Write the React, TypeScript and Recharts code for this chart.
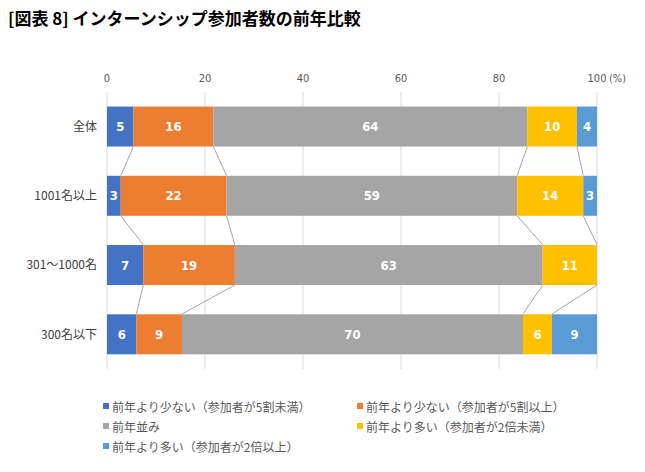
import React from 'react'
import { BarChart, Bar, XAxis, YAxis, CartesianGrid, LabelList } from 'recharts'

const categories = ['全体', '1001名以上', '301～1000名', '300名以下']
const seriesNames = [
  '前年より少ない（参加者が5割未満）',
  '前年より少ない（参加者が5割以上）',
  '前年並み',
  '前年より多い（参加者が2倍未満）',
  '前年より多い（参加者が2倍以上）',
]
const seriesColors = ['#4472C4', '#ED7D31', '#A5A5A5', '#FFC000', '#5B9BD5']

const fewerHalf = [5.4, 2.8, 7.4, 6.0]
const fewer = [16.3, 21.6, 18.7, 9.3]
const same = [64.1, 59.3, 62.8, 69.6]
const more = [10.1, 13.5, 11.1, 5.9]
const moreDouble = [4.1, 2.8, 0, 9.2]
const xTicks = [0, 20, 40, 60, 80, 100]

const seriesValues = [fewerHalf, fewer, same, more, moreDouble]
const keys = ['s0', 's1', 's2', 's3', 's4']

const data = categories.map((name, i) => {
  const row: Record<string, any> = { name }
  keys.forEach((k, j) => (row[k] = seriesValues[j][i]))
  return row
})

// running total up to and including series k
const cum = (i: number, k: number) =>
  seriesValues.slice(0, k + 1).reduce((s, arr) => s + arr[i], 0)

const GAP = 0.21
const lineColor = '#A5A5A5'
const narrow = '"DejaVu Sans Condensed", "DejaVu Sans", sans-serif'

function makeShape(k: number) {
  return (props: any) => {
    const { x, y, width, height, index, fill, background } = props
    if (!width || width <= 0) return <g />
    const unit = background ? background.width / 100 : width / seriesValues[k][index]
    const origin = background ? background.x : x - cum(index, k - 1) * unit
    const hasLine = k < 4 && index < categories.length - 1
    const band = height / (1 - 2 * GAP)
    return (
      <g>
        <rect x={x} y={y} width={width} height={height} fill={fill} />
        {hasLine && (
          <line
            x1={x + width}
            y1={y + height}
            x2={origin + cum(index + 1, k) * unit}
            y2={y + band}
            stroke={lineColor}
            strokeWidth={1}
          />
        )}
      </g>
    )
  }
}

const XTick = (props: any) => {
  const { x, y, payload } = props
  const style = { fontSize: 11, fill: '#595959', fontFamily: narrow, style: { fontStretch: 'condensed' } }
  return (
    <g>
      <text x={x} y={y - 10} textAnchor="middle" {...style}>{payload.value}</text>
      {payload.value === 100 && (
        <text x={x + 12} y={y - 10} textAnchor="start" {...style}>(%)</text>
      )}
    </g>
  )
}

const labelFmt = (v: any) => (Number(v) > 0 ? String(Math.round(Number(v))) : '')

export default function App() {
  return (
    <div style={{ position: 'absolute', left: 0, top: 0, width: 645, height: 472, background: '#fff', fontFamily: '"Noto Sans CJK JP", sans-serif' }}>
      <div style={{ position: 'absolute', left: 8, top: 5, fontSize: 17, fontWeight: 'bold', color: '#000', whiteSpace: 'nowrap' }}>
        [図表 8] インターンシップ参加者数の前年比較
      </div>
      <BarChart
        width={645}
        height={472}
        data={data}
        layout="vertical"
        margin={{ top: 70, right: 48, bottom: 103, left: 7 }}
        barCategoryGap={`${GAP * 100}%`}
      >
        <CartesianGrid horizontal={false} stroke="#D9D9D9" />
        <XAxis
          type="number"
          orientation="top"
          domain={[0, 100]}
          ticks={xTicks}
          height={22}
          axisLine={false}
          tickLine={false}
          tickSize={0}
          tickMargin={0}
          tick={<XTick />}
          allowDataOverflow
        />
        <YAxis
          type="category"
          dataKey="name"
          width={100}
          axisLine={false}
          tickLine={false}
          tickSize={0}
          tickMargin={10}
          tick={{ fontSize: 12, fill: '#404040', fontFamily: '"Noto Sans CJK JP", sans-serif' }}
        />
        {keys.map((k, j) => (
          <Bar key={k} dataKey={k} stackId="a" fill={seriesColors[j]} isAnimationActive={false} shape={makeShape(j)}>
            <LabelList
              dataKey={k}
              position="center"
              formatter={labelFmt}
              fill="#fff"
              fontSize={13}
              fontWeight="bold"
              fontFamily={narrow}
              style={{ fontStretch: 'condensed' }}
            />
          </Bar>
        ))}
      </BarChart>
      <div style={{ position: 'absolute', left: 103, top: 397, width: 520, display: 'grid', gridTemplateColumns: '254px 260px', rowGap: 2, fontSize: 12, color: '#595959' }}>
        {seriesNames.map((n, j) => (
          <div key={n} style={{ display: 'flex', alignItems: 'center', height: 18, whiteSpace: 'nowrap' }}>
            <span style={{ display: 'inline-block', width: 6, height: 6, background: seriesColors[j], marginRight: 3 }} />
            {n}
          </div>
        ))}
      </div>
    </div>
  )
}
